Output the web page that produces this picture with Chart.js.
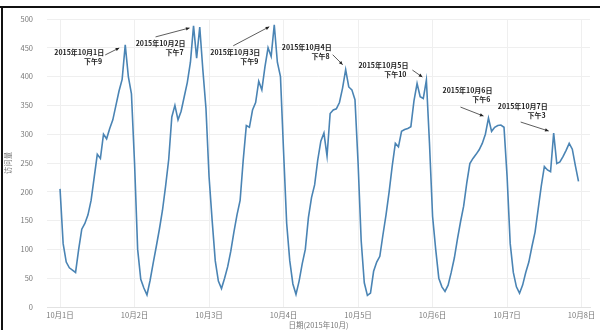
<!DOCTYPE html>
<html>
<head>
<meta charset="utf-8">
<script src="https://cdn.jsdelivr.net/npm/chart.js@4.4.1/dist/chart.umd.min.js"></script>
<style>
html,body{margin:0;padding:0;background:#fff;}
#wrap{position:relative;width:600px;height:330px;}
</style>
</head>
<body>
<div id="wrap"><canvas id="c" width="600" height="330"></canvas></div>
<script>
// ---- data ----
const dayLabels = ['10月1日','10月2日','10月3日','10月4日','10月5日','10月6日','10月7日','10月8日'];
const day1 = [205,110,78,68,64,60,100,135,145,160,185,225,265,258,300,292,310,325,350,375,395,455,400,370];
const day2 = [250,100,48,33,21,46,76,105,135,168,210,256,330,350,325,340,365,390,425,488,432,486,412,345];
const day3 = [226,150,80,45,32,50,70,97,130,160,185,255,315,312,342,355,392,377,417,450,435,490,425,400];
const day4 = [270,145,80,40,22,45,75,100,155,190,212,255,288,302,262,336,342,344,355,380,412,382,377,360];
const day5 = [250,115,42,20,24,62,78,88,125,160,200,245,284,278,305,308,310,313,358,388,365,362,394,284];
const day6 = [157,100,50,35,27,38,60,85,118,148,175,215,249,258,265,273,284,300,328,305,312,315,316,312];
const day7 = [226,110,60,35,24,38,60,78,105,130,170,210,244,238,235,302,249,252,261,272,284,274,245,218];
const values = [].concat(day1,day2,day3,day4,day5,day6,day7);
const yTitle = '访问量';
const xTitle = '日期(2015年10月)';
const annotations = [
  {idx:21,  lines:['2015年10月1日','下午9']},
  {idx:43,  lines:['2015年10月2日','下午7']},
  {idx:69,  lines:['2015年10月3日','下午9']},
  {idx:92,  lines:['2015年10月4日','下午8']},
  {idx:118, lines:['2015年10月5日','下午10']},
  {idx:138, lines:['2015年10月6日','下午6']},
  {idx:159, lines:['2015年10月7日','下午3']}
];
// label layout offsets (pixels, relative to the peak point): text right edge, first-line y, arrow start, arrow end
const annotLayout = [
  {tx:-21, ty:7,   ax:-20, ay:10,  bx:-6, by:3},
  {tx:-8,  ty:17,  ax:-38, ay:11,  bx:-4, by:2},
  {tx:-14, ty:28,  ax:-41, ay:21,  bx:-5, by:2},
  {tx:-14, ty:-22, ax:-13, ay:-15, bx:-3, by:-5},
  {tx:-18, ty:-15, ax:-14, ay:-10, bx:-4, by:-3},
  {tx:4,   ty:-28, ax:-28, ay:-11, bx:-5, by:-2},
  {tx:-6,  ty:-27, ax:-33, ay:-11, bx:-5, by:-2}
];

const FONT = "'Noto Sans CJK SC','Noto Sans',sans-serif";

const annotPlugin = {
  id:'annot',
  afterDatasetsDraw(chart){
    const ctx = chart.ctx;
    const xs = chart.scales.x, ys = chart.scales.y;
    ctx.save();
    annotations.forEach((a,i)=>{
      const L = annotLayout[i];
      const px = xs.getPixelForValue(a.idx);
      const py = ys.getPixelForValue(values[a.idx]);
      // text
      ctx.fillStyle = '#222';
      ctx.font = "bold 7px " + FONT;
      ctx.textAlign = 'right';
      ctx.textBaseline = 'middle';
      ctx.fillText(a.lines[0], px + L.tx, py + L.ty);
      ctx.fillText(a.lines[1], px + L.tx - 2, py + L.ty + 9);
      // arrow
      const x0 = px + L.ax, y0 = py + L.ay, x1 = px + L.bx, y1 = py + L.by;
      ctx.strokeStyle = '#333';
      ctx.lineWidth = 0.8;
      ctx.beginPath(); ctx.moveTo(x0,y0); ctx.lineTo(x1,y1); ctx.stroke();
      const ang = Math.atan2(y1-y0, x1-x0);
      const h = 4;
      ctx.fillStyle = '#222';
      ctx.beginPath();
      ctx.moveTo(x1,y1);
      ctx.lineTo(x1 - h*Math.cos(ang-0.45), y1 - h*Math.sin(ang-0.45));
      ctx.lineTo(x1 - h*Math.cos(ang+0.45), y1 - h*Math.sin(ang+0.45));
      ctx.closePath(); ctx.fill();
    });
    ctx.restore();
  },
  afterDraw(chart){
    const ctx = chart.ctx;
    ctx.save();
    ctx.fillStyle = '#111';
    ctx.fillRect(0,6,600,2);
    ctx.fillRect(1,6,2,324);
    ctx.restore();
  }
};

new Chart(document.getElementById('c'), {
  type:'line',
  data:{
    datasets:[{
      data: values.map((v,i)=>({x:i,y:v})),
      borderColor:'#4a84b4',
      borderWidth:1.6,
      pointRadius:0,
      tension:0,
      fill:false
    }]
  },
  options:{
    responsive:false,
    animation:false,
    devicePixelRatio:1,
    layout:{padding:{top:19,right:10,left:0,bottom:0}},
    plugins:{legend:{display:false},tooltip:{enabled:false}},
    scales:{
      x:{
        type:'linear',
        min:-4.2,
        max:170.7,
        afterBuildTicks(scale){ scale.ticks = dayLabels.map((_,i)=>({value:i*24})); },
        afterFit(scale){ scale.height = 23; },
        ticks:{
          autoSkip:false,
          maxRotation:0,
          padding:4,
          color:'#777',
          font:{family:FONT,size:7.5},
          callback:(v)=>dayLabels[Math.round(v/24)]
        },
        grid:{color:'#efefef',drawTicks:false,lineWidth:1},
        border:{display:true,color:'#e2e2e2'},
        title:{display:true,text:xTitle,color:'#777',font:{family:FONT,size:7.5},padding:{top:0,bottom:0}}
      },
      y:{
        min:0,max:500,
        afterFit(scale){ scale.width = 47; },
        ticks:{stepSize:50,padding:14,color:'#777',font:{family:FONT,size:7.5}},
        grid:{color:'#efefef',drawTicks:false,lineWidth:1},
        border:{display:false},
        title:{display:true,text:yTitle,color:'#777',font:{family:FONT,size:7.5},padding:{top:4,bottom:0}}
      }
    }
  },
  plugins:[annotPlugin]
});
</script>
</body>
</html>
